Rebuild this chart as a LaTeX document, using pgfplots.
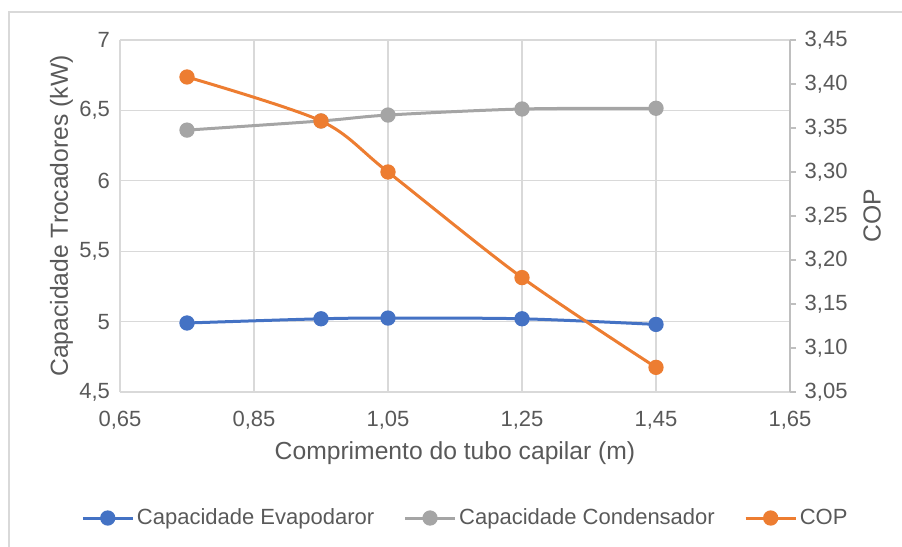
\documentclass[border=0pt]{standalone}
\usepackage{pgfplots}
\pgfplotsset{compat=1.18}
\usepackage{fontspec}
\setmainfont{Liberation Sans}

\definecolor{evap}{HTML}{4472C4}
\definecolor{cond}{HTML}{A5A5A5}
\definecolor{cop}{HTML}{ED7D31}
\definecolor{gridc}{HTML}{D9D9D9}
\definecolor{axc}{HTML}{BFBFBF}
\definecolor{txt}{HTML}{595959}

\pgfplotsset{
  common/.style={
    scale only axis,
    width=502.5pt, height=264pt,
    at={(0,0)}, anchor=south west,
    xmin=0.65, xmax=1.65,
    /pgf/number format/assume math mode=true,
    /pgf/number format/use comma,
    ticklabel style={font=\fontsize{16.5}{19}\selectfont, text=txt},
    label style={font=\fontsize{18.5}{22}\selectfont, text=txt},
  },
  serie/.style={line width=2.25pt, smooth, mark=*, mark size=4.6pt, mark options={solid}},
  legend image code/.code={
    \draw[mark repeat=2, mark phase=2, #1] plot coordinates {(0pt,0pt) (18.75pt,0pt) (37.5pt,0pt)};
  },
}

\begin{document}
\begin{tikzpicture}
\useasboundingbox (-90pt,-115.5pt) rectangle (586.5pt,294pt);
\draw[gridc, line width=1pt] (-83.25pt,-120pt) -- (-83.25pt,285pt) -- (590pt,285pt);

\begin{axis}[
  common,
  ymin=4.5, ymax=7,
  xtick={0.65,0.85,...,1.66},
  ytick={4.5,5,...,7.01},
  xticklabel style={/pgf/number format/.cd, fixed, fixed zerofill, precision=2},
  yticklabel style={/pgf/number format/.cd, fixed, precision=1},
  grid=major,
  major grid style={gridc, line width=1pt},
  axis line style={draw=none},
  major tick length=0pt,
  xlabel={Comprimento do tubo capilar (m)},
  ylabel={Capacidade Trocadores (kW)},
  xlabel style={yshift=-2pt},
  ylabel style={yshift=-2pt},
  xticklabel shift=11pt,
  yticklabel shift=4pt,
]
\addplot[serie, color=evap] coordinates {
  (0.75,4.99) (0.95,5.02) (1.05,5.025) (1.25,5.02) (1.45,4.98)
};
\addplot[serie, color=cond] coordinates {
  (0.75,6.36) (0.95,6.425) (1.05,6.467) (1.25,6.51) (1.45,6.515)
};
\end{axis}

\begin{axis}[
  common,
  ymin=3.05, ymax=3.45,
  ytick={3.05,3.10,...,3.46},
  yticklabel style={/pgf/number format/.cd, fixed, fixed zerofill, precision=2},
  axis x line=none,
  axis y line*=right,
  y axis line style={axc, line width=1pt, -},
  tick align=outside,
  major tick length=4.5pt,
  ytick style={axc, line width=1pt},
  ylabel={COP},
  ylabel style={yshift=-5pt},
  yticklabel shift=3pt,
  legend style={at={(0.516,-0.358)}, anchor=center, draw=none, fill=none,
    font=\fontsize{16.5}{20}\selectfont, text=txt,
    legend columns=-1,
    /tikz/every even column/.append style={column sep=20pt}},
  legend cell align=left,
]
\addlegendimage{serie, color=evap}
\addlegendentry{Capacidade Evapodaror}
\addlegendimage{serie, color=cond}
\addlegendentry{Capacidade Condensador}
\addplot[serie, color=cop] coordinates {
  (0.75,3.408) (0.95,3.358) (1.05,3.300) (1.25,3.180) (1.45,3.078)
};
\addlegendentry{COP}
\end{axis}
\end{tikzpicture}
\end{document}
